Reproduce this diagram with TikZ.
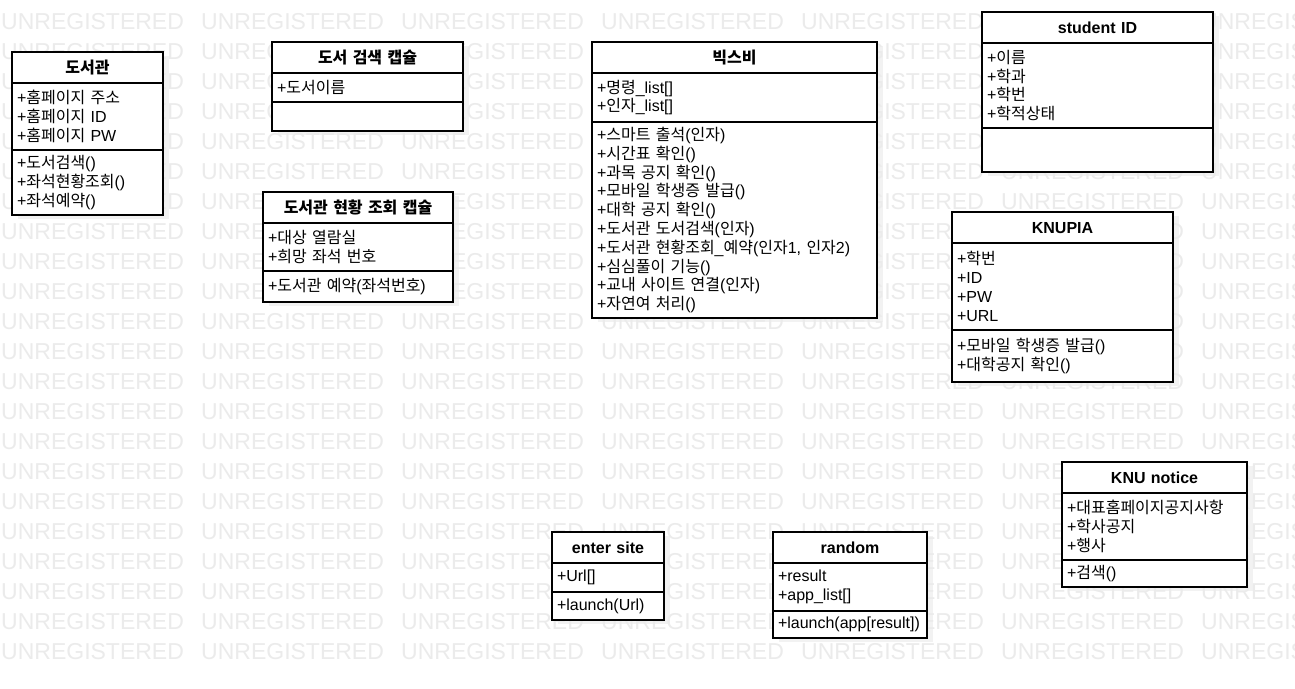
\documentclass[tikz,border=0pt]{standalone}
\usepackage{fontspec}
\setmainfont{Liberation Sans}
\newfontfamily\krfont{Noto Sans CJK KR}
\newcommand{\hangul}[1]{{\krfont #1}}
\usepackage{tikz}
\usetikzlibrary{positioning, backgrounds}

\begin{document}
\begin{tikzpicture}[
    x=1pt, y=-1pt,
    every node/.style={font=\fontsize{16}{18.8}\selectfont},
    wmtext/.style={anchor=base west, inner sep=0pt, text=black!8,
                   font=\fontsize{23}{23}\selectfont},
    classpart/.style={draw, line width=1.2pt, fill=white, outer sep=0pt,
                      inner xsep=5pt, inner ysep=2pt, anchor=north west},
    classhead/.style={classpart, font=\fontsize{16}{18.8}\selectfont\bfseries,
                      align=center, text height=13.5pt, text depth=1.5pt,
                      minimum height=31pt},
    classbody/.style={classpart, align=left},
    classshadow/.style={fill=black, opacity=0.05},
]

\useasboundingbox (0,0) rectangle (1295,688);

%% Wasserzeichen im Hintergrund
\foreach \row in {0,...,21}
  \foreach \col in {0,...,6}
    \node[wmtext] (wm-\row-\col) at (200*\col+1, 29+30*\row) {UNREGISTERED};

%% Klassen: Kopf, Attribute, Operationen
\node[classhead, text width=141pt] at (12,52) (lib) {\hangul{도서관}};
\node[classbody, text width=141pt, minimum height=67pt, below=0pt of lib] (lib-attr)
  {+\hangul{홈페이지 주소}\\+\hangul{홈페이지} ID\\+\hangul{홈페이지} PW};
\node[classbody, text width=141pt, minimum height=65pt, below=0pt of lib-attr] (lib-op)
  {+\hangul{도서검색}()\\+\hangul{좌석현황조회}()\\+\hangul{좌석예약}()};

\node[classhead, text width=181pt] at (272,42) (search) {\hangul{도서 검색 캡슐}};
\node[classbody, text width=181pt, minimum height=29pt, below=0pt of search] (search-attr)
  {+\hangul{도서이름}};
\node[classbody, text width=181pt, minimum height=29pt, below=0pt of search-attr] (search-op) {};

\node[classhead, text width=180pt] at (263,192) (status) {\hangul{도서관 현황 조회 캡슐}};
\node[classbody, text width=180pt, minimum height=48pt, below=0pt of status] (status-attr)
  {+\hangul{대상 열람실}\\+\hangul{희망 좌석 번호}};
\node[classbody, text width=180pt, minimum height=31pt, below=0pt of status-attr] (status-op)
  {+\hangul{도서관 예약}(\hangul{좌석번호})};

\node[classhead, text width=275pt] at (592,42) (bixby) {\hangul{빅스비}};
\node[classbody, text width=275pt, minimum height=49pt, below=0pt of bixby] (bixby-attr)
  {+\hangul{명령}\_list[]\\+\hangul{인자}\_list[]};
\node[classbody, text width=275pt, minimum height=196pt, below=0pt of bixby-attr] (bixby-op)
  {+\hangul{스마트 출석}(\hangul{인자})\\
   +\hangul{시간표 확인}()\\
   +\hangul{과목 공지 확인}()\\
   +\hangul{모바일 학생증 발급}()\\
   +\hangul{대학 공지 확인}()\\
   +\hangul{도서관 도서검색}(\hangul{인자})\\
   +\hangul{도서관 현황조회}\_\hangul{예약}(\hangul{인자}1, \hangul{인자}2)\\
   +\hangul{심심풀이 기능}()\\
   +\hangul{교내 사이트 연결}(\hangul{인자})\\
   +\hangul{자연여 처리}()};

\node[classhead, text width=221pt] at (982,12) (sid) {student ID};
\node[classbody, text width=221pt, minimum height=85pt, below=0pt of sid] (sid-attr)
  {+\hangul{이름}\\+\hangul{학과}\\+\hangul{학번}\\+\hangul{학적상태}};
\node[classbody, text width=221pt, minimum height=44pt, below=0pt of sid-attr] (sid-op) {};

\node[classhead, text width=211pt] at (952,212) (knupia) {KNUPIA};
\node[classbody, text width=211pt, minimum height=87pt, below=0pt of knupia] (knupia-attr)
  {+\hangul{학번}\\+ID\\+PW\\+URL};
\node[classbody, text width=211pt, minimum height=52pt, below=0pt of knupia-attr] (knupia-op)
  {+\hangul{모바일 학생증 발급}()\\+\hangul{대학공지 확인}()};

\node[classhead, text width=175pt] at (1062,462) (notice) {KNU notice};
\node[classbody, text width=175pt, minimum height=67pt, below=0pt of notice] (notice-attr)
  {+\hangul{대표홈페이지공지사항}\\+\hangul{학사공지}\\+\hangul{행사}};
\node[classbody, text width=175pt, minimum height=27pt, below=0pt of notice-attr] (notice-op)
  {+\hangul{검색}()};

\node[classhead, text width=102pt] at (552,532) (site) {enter site};
\node[classbody, text width=102pt, minimum height=29pt, below=0pt of site] (site-attr) {+Url[]};
\node[classbody, text width=102pt, minimum height=28pt, below=0pt of site-attr] (site-op)
  {+launch(Url)};

\node[classhead, text width=144pt] at (773,532) (rnd) {random};
\node[classbody, text width=144pt, minimum height=48pt, below=0pt of rnd] (rnd-attr)
  {+result\\+app\_list[]};
\node[classbody, text width=144pt, minimum height=27pt, below=0pt of rnd-attr] (rnd-op)
  {+launch(app[result])};

%% Schatten und weisser Grund
\begin{scope}[on background layer]
\fill[white] (0,0) rectangle (1295,688);
\foreach \c in {lib,search,status,bixby,sid,knupia,notice,site,rnd}
  \fill[classshadow] ([shift={(6,4)}]\c.north west) rectangle ([shift={(6,4)}]\c-op.south east);
\end{scope}

\end{tikzpicture}
\end{document}
